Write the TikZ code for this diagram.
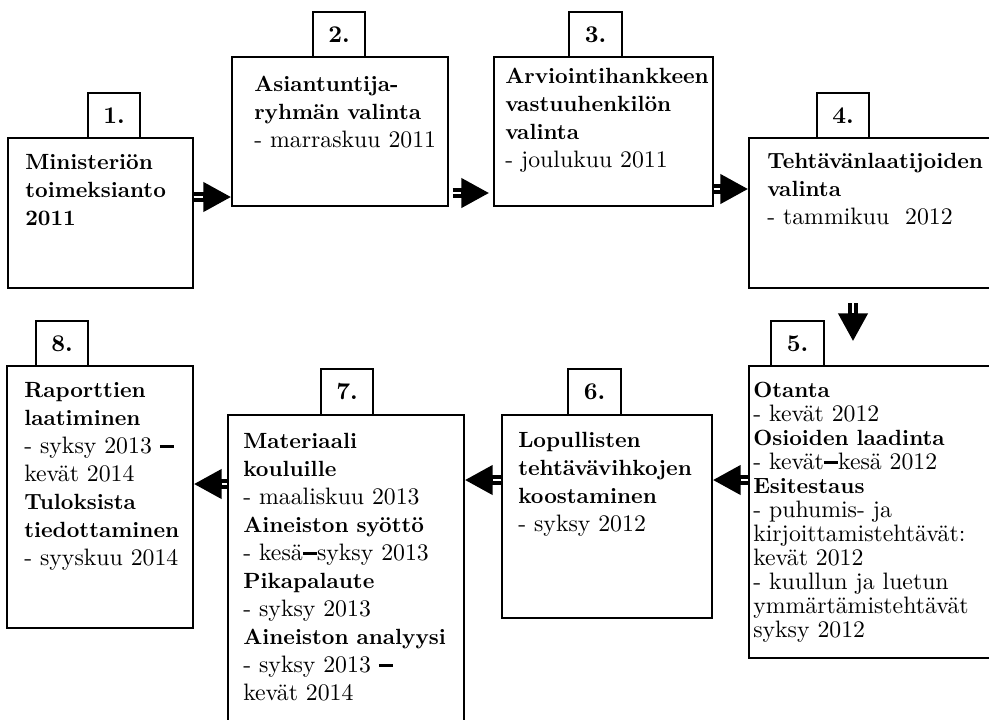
\documentclass[tikz,border=0pt]{standalone}
\usepackage{fontspec}
\setmainfont{lmroman10-regular.otf}[Scale=1.08,BoldFont=lmroman10-bold.otf,BoldFeatures={Scale=1.0}]
\usetikzlibrary{arrows.meta,fit,positioning}
\newcommand{\dashbar}{\rule[0.22em]{0.6em}{2.2pt}}
\tikzset{
  stagebox/.style={draw,line width=1pt,inner sep=0pt},
  numbox/.style={draw,fill=white,line width=1pt,inner sep=0pt},
  numtext/.style={font=\fontsize{18}{21}\selectfont\bfseries,inner sep=0pt},
  stagetext/.style={anchor=base west,inner sep=0pt,text width=180pt,align=left,font=\fontsize{16.5}{21}\selectfont},
  flowarrow/.style={line width=7pt,-{Triangle[length=21pt,width=21pt]},postaction={draw=white,line width=1.2pt,arrows=-,shorten >=#1}},
  flowarrow/.default=21pt,
}

\begin{document}
\begin{tikzpicture}[x=0.75pt,y=0.75pt,yscale=-1,xscale=1]
\clip (0,0) rectangle (989,719);

%Shape: Rectangle [stages]
\node[stagebox,fit={(8,138) (193,288)}] (b1) {};
\node[stagebox,fit={(232,57) (448,206)}] (b2) {};
\node[stagebox,fit={(494,57) (713,206)}] (b3) {};
\node[stagebox,fit={(749,138) (1000,288)}] (b4) {};
\node[stagebox,fit={(749,366) (1000,658)}] (b5) {};
\node[stagebox,fit={(502,415) (712,618)}] (b6) {};
\node[stagebox,fit={(228,415) (464,740)}] (b7) {};
\node[stagebox,fit={(7,366) (193,628)}] (b8) {};

%Shape: Rectangle [numbers]
\node[numbox,fit={(88,93) (140,138)},label={[numtext]center:1.}] (n1) {};
\node[numbox,fit={(313,12) (365,57)},label={[numtext]center:2.}] (n2) {};
\node[numbox,fit={(569,12) (622,57)},label={[numtext]center:3.}] (n3) {};
\node[numbox,fit={(817,93) (869,138)},label={[numtext]center:4.}] (n4) {};
\node[numbox,fit={(771,321) (824,366)},label={[numtext]center:5.}] (n5) {};
\node[numbox,fit={(568,369) (621,415)},label={[numtext]center:6.}] (n6) {};
\node[numbox,fit={(321,369) (373,415)},label={[numtext]center:7.}] (n7) {};
\node[numbox,fit={(36,321) (88,366)},label={[numtext]center:8.}] (n8) {};

% Text Node
\node[stagetext] (t1) at (25,169) {\textbf{Ministeriön}\\\textbf{toimeksianto}\\\textbf{2011}};
% Text Node
\node[stagetext] (t2) at (254,91) {\textbf{Asiantuntija-}\\\textbf{ryhmän valinta}\\- marraskuu 2011};
% Text Node
\node[stagetext] (t3) at (505,83) {\textbf{Arviointihankkeen}\\\textbf{vastuuhenkilön}\\\textbf{valinta}\\- joulukuu 2011};
% Text Node
\node[stagetext] (t4) at (767,168) {\textbf{Tehtävänlaatijoiden}\\\textbf{valinta}\\- tammikuu\ \ 2012};
% Text Node
\node[stagetext,font=\fontsize{16.5}{18}\selectfont] (t5) at (753,397) {\textbf{Otanta}\\- kevät 2012\\\textbf{Osioiden laadinta}\\- kevät\dashbar kesä 2012\\\textbf{Esitestaus}\\- puhumis- ja\\kirjoittamistehtävät:\\kevät 2012\\- kuullun ja luetun\\ymmärtämistehtävät\\syksy 2012};
% Text Node
\node[stagetext] (t6) at (518,447) {\textbf{Lopullisten}\\\textbf{tehtävävihkojen}\\\textbf{koostaminen}\\- syksy 2012};
% Text Node
\node[stagetext] (t7) at (243,448) {\textbf{Materiaali}\\\textbf{kouluille}\\- maaliskuu 2013\\\textbf{Aineiston syöttö}\\- kesä\dashbar syksy 2013\\\textbf{Pikapalaute}\\- syksy 2013\\\textbf{Aineiston analyysi}\\- syksy 2013 \dashbar\\kevät 2014};
% Text Node
\node[stagetext] (t8) at (24,397) {\textbf{Raporttien}\\\textbf{laatiminen}\\- syksy 2013 \dashbar\\kevät 2014\\\textbf{Tuloksista}\\\textbf{tiedottaminen}\\- syyskuu 2014};

%Straight Lines [flow arrows]
\coordinate (ya) at (0,197);
\coordinate (yb) at (0,193);
\coordinate (yc) at (0,189);
\coordinate (xd) at (853,0);
\coordinate (ye) at (0,480);
\coordinate (yf) at (0,484);
\draw[flowarrow] (b1.east |- ya) -- (b2.west |- ya);
\draw[flowarrow=24pt,shorten <=3pt,shorten >=3pt] (b2.east |- yb) -- (b3.west |- yb);
\draw[flowarrow] (b3.east |- yc) -- (b4.west |- yc);
\draw[flowarrow=39pt,shorten <=11pt,shorten >=18pt] (xd |- b4.south) -- (xd |- b5.north);
\draw[flowarrow] (b5.west |- ye) -- (b6.east |- ye);
\draw[flowarrow] (b6.west |- ye) -- (b7.east |- ye);
\draw[flowarrow] (b7.west |- yf) -- (b8.east |- yf);

\end{tikzpicture}
\end{document}
